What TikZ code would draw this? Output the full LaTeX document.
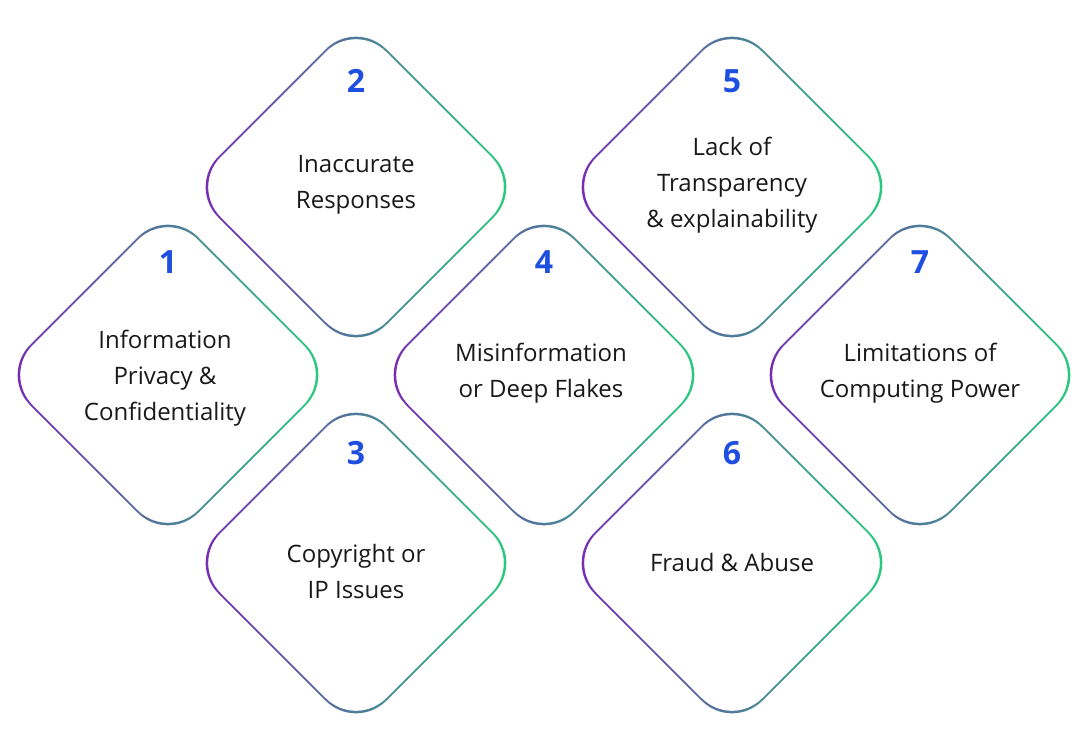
\documentclass[tikz,border=0pt]{standalone}
\usepackage{fontspec}
\setmainfont{Open Sans}
\definecolor{purp}{HTML}{7B25B5}
\definecolor{blu}{HTML}{1E74F5}
\definecolor{grn}{HTML}{26D27E}
\definecolor{numc}{HTML}{1F4FE0}
\tikzset{
  lbl/.style={align=center,font=\fontsize{18}{27}\selectfont,text=black!90},
  num/.style={font=\fontsize{24}{28}\selectfont\bfseries,text=numc}
}
\newcommand{\ring}[3]{% name, x, y
  \shade[even odd rule,rounded corners=32pt,left color=purp,middle color=blu,right color=grn]
   ({#2-168},#3) -- (#2,{#3-168}) -- ({#2+168},#3) -- (#2,{#3+168}) -- cycle
   ({#2-165.5},#3) -- (#2,{#3-165.5}) -- ({#2+165.5},#3) -- (#2,{#3+165.5}) -- cycle;
  \coordinate (#1) at (#2,#3);
}
\begin{document}
\begin{tikzpicture}[x=0.75pt,y=-0.75pt]
\useasboundingbox (0,0) rectangle (1088,750);
\fill[white] (0,0) rectangle (1088,750);
\ring{d1}{168}{375}
\ring{d2}{356}{187}
\ring{d3}{356}{563}
\ring{d4}{544}{375}
\ring{d5}{732}{187}
\ring{d6}{732}{563}
\ring{d7}{920}{375}
\node[num] (n1) at (168,262) {1};
\node[num] (n2) at (356,81) {2};
\node[num] (n3) at (356,453) {3};
\node[num] (n4) at (544,262) {4};
\node[num] (n5) at (732,81) {5};
\node[num] (n6) at (732,453) {6};
\node[num] (n7) at (920,262) {7};
\node[lbl] (t1) at (165,378) {Information\\Privacy \&\\Confidentiality};
\node[lbl] (t2) at (356,185) {Inaccurate\\Responses};
\node[lbl] (t3) at (356,571) {Copyright or\\IP Issues};
\node[lbl] (t4) at (541,373) {Misinformation\\or Deep Flakes};
\node[lbl] (t5) at (732,185) {Lack of\\Transparency\\\& explainability};
\node[lbl] (t6) at (732,562) {Fraud \& Abuse};
\node[lbl] (t7) at (920,373) {Limitations of\\Computing Power};
\end{tikzpicture}
\end{document}
